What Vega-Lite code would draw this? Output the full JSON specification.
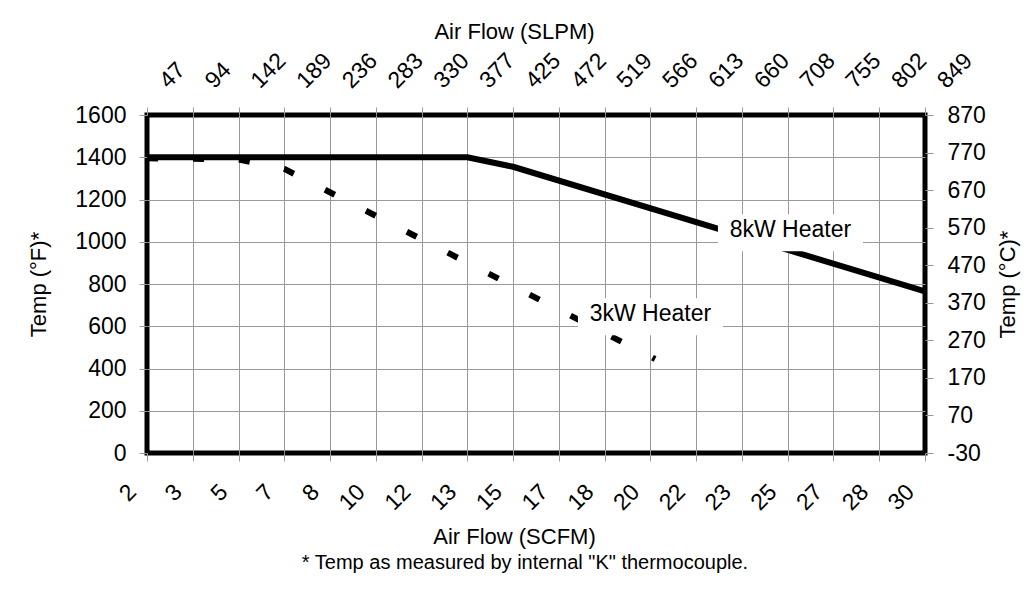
{
  "$schema": "https://vega.github.io/schema/vega-lite/v6.json",
  "width": 778,
  "height": 338,
  "autosize": "none",
  "padding": {"left": 147, "top": 115, "right": 102, "bottom": 157},
  "background": "white",
  "title": {
    "text": "* Temp as measured by internal \"K\" thermocouple.",
    "orient": "bottom",
    "anchor": "middle",
    "font": "Liberation Sans",
    "fontSize": 20,
    "fontWeight": "normal",
    "color": "black",
    "offset": 5,
    "dx": -11
  },
  "datasets": {
    "curves": [
      {"heater": "8kW", "scfm": 1.66667, "temp": 1400},
      {"heater": "8kW", "scfm": 13.33333, "temp": 1400},
      {"heater": "8kW", "scfm": 15, "temp": 1355},
      {"heater": "8kW", "scfm": 30, "temp": 765},
      {"heater": "3kW", "scfm": 1.66667, "temp": 1395},
      {"heater": "3kW", "scfm": 5, "temp": 1390},
      {"heater": "3kW", "scfm": 6.66667, "temp": 1345},
      {"heater": "3kW", "scfm": 20.17, "temp": 445}
    ],
    "labels": [
      {"label": "8kW Heater", "scfm": 25.1, "temp": 1043},
      {"label": "3kW Heater", "scfm": 20.0, "temp": 645}
    ]
  },
  "config": {
    "view": {"stroke": "black", "strokeWidth": 5},
    "axis": {
      "labelFont": "Liberation Sans",
      "titleFont": "Liberation Sans",
      "labelFontSize": 23,
      "titleFontSize": 22,
      "titleFontWeight": "normal",
      "labelColor": "black",
      "titleColor": "black",
      "domain": false,
      "tickColor": "#999",
      "tickSize": 8,
      "tickWidth": 1,
      "gridColor": "#999",
      "gridWidth": 1
    }
  },
  "resolve": {"axis": {"x": "independent", "y": "independent"}},
  "layer": [
    {
      "data": {"name": "curves"},
      "transform": [{"filter": "datum.heater === '8kW'"}],
      "mark": {"type": "line", "color": "black", "strokeWidth": 6, "strokeJoin": "miter"},
      "encoding": {
        "x": {
          "field": "scfm", "type": "quantitative",
          "scale": {"domain": [1.66667, 30], "nice": false, "zero": false},
          "axis": {
            "orient": "bottom",
            "title": "Air Flow (SCFM)",
            "titleX": 367,
            "values": [1.66667, 3.33333, 5, 6.66667, 8.33333, 10, 11.66667, 13.33333, 15, 16.66667, 18.33333, 20, 21.66667, 23.33333, 25, 26.66667, 28.33333, 30],
            "labelExpr": "format(datum.value, '.0f')",
            "labelAngle": -45,
            "labelAlign": "right",
            "labelBaseline": "middle",
            "labelOffset": -15,
            "labelPadding": 27,
            "titlePadding": 12,
            "grid": true,
            "gridColor": {"condition": {"test": "datum.value < 1.7 || datum.value > 29.9", "value": "transparent"}, "value": "#999"}
          }
        },
        "y": {
          "field": "temp", "type": "quantitative",
          "scale": {"domain": [0, 1600], "nice": false, "zero": false},
          "axis": {
            "orient": "left",
            "title": "Temp (°F)*",
            "format": "d",
            "values": [0, 200, 400, 600, 800, 1000, 1200, 1400, 1600],
            "labelPadding": 13,
            "titlePadding": 24,
            "grid": true,
            "gridColor": {"condition": {"test": "datum.value < 1 || datum.value > 1599", "value": "transparent"}, "value": "#999"}
          }
        }
      }
    },
    {
      "data": {"name": "curves"},
      "transform": [{"filter": "datum.heater === '3kW'"}],
      "mark": {"type": "line", "color": "black", "strokeWidth": 6, "strokeDash": [11, 35], "strokeCap": "butt"},
      "encoding": {
        "x": {
          "field": "scfm", "type": "quantitative",
          "axis": {
            "orient": "top",
            "title": "Air Flow (SLPM)",
            "titleX": 367,
            "values": [1.66667, 3.33333, 5, 6.66667, 8.33333, 10, 11.66667, 13.33333, 15, 16.66667, 18.33333, 20, 21.66667, 23.33333, 25, 26.66667, 28.33333, 30],
            "labelExpr": "format(datum.value * 28.301, '.0f')",
            "labelAngle": -45,
            "labelAlign": "left",
            "labelBaseline": "middle",
            "labelOffset": 16,
            "labelPadding": 23,
            "titlePadding": 6,
            "grid": false
          }
        },
        "y": {
          "field": "temp", "type": "quantitative",
          "axis": {
            "orient": "right",
            "title": "Temp (°C)*",
            "titleAngle": -90,
            "titleBaseline": "top",
            "values": [0, 177.778, 355.556, 533.333, 711.111, 888.889, 1066.667, 1244.444, 1422.222, 1600],
            "labelExpr": "'' + round(datum.value * 0.5625 - 30)",
            "labelPadding": 14,
            "titlePadding": 12,
            "grid": false
          }
        }
      }
    },
    {
      "data": {"name": "labels"},
      "mark": {"type": "rect", "fill": "white", "width": 145, "height": 37},
      "encoding": {
        "x": {"field": "scfm", "type": "quantitative", "axis": null},
        "y": {"field": "temp", "type": "quantitative", "axis": null}
      }
    },
    {
      "data": {"name": "labels"},
      "mark": {"type": "text", "font": "Liberation Sans", "fontSize": 23, "color": "black", "align": "center", "baseline": "middle", "dy": -3},
      "encoding": {
        "x": {"field": "scfm", "type": "quantitative", "axis": null},
        "y": {"field": "temp", "type": "quantitative", "axis": null},
        "text": {"field": "label"}
      }
    }
  ]
}
